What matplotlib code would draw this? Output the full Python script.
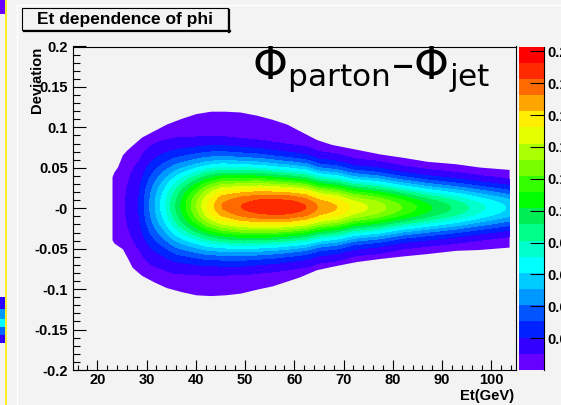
import numpy as np
import matplotlib
matplotlib.use('Agg')
import matplotlib.pyplot as plt
from matplotlib.patches import Rectangle
from matplotlib.lines import Line2D
from matplotlib.colors import ListedColormap
from matplotlib.ticker import MultipleLocator, FixedLocator, FixedFormatter

W, H = 561, 405
BG = '#f3f3f3'
FONT = 'Liberation Sans'

plt.rcParams['mathtext.fontset'] = 'dejavusans'

# Et columns (GeV)
et_nodes = [23.0, 24.0, 25.0, 26.5, 28.5, 31.0, 33.5, 36.0, 39.0, 42.3, 45.3, 49.5, 53.0,
            56.0, 59.0, 62.3, 65.0, 68.8, 72.0, 77.0, 82.0, 87.0, 93.0, 98.0, 103.6]
# height of the ridge at each Et
peak = [0.001, 0.004, 0.0075, 0.013, 0.021, 0.044, 0.067, 0.092, 0.121, 0.152, 0.1725, 0.1832, 0.1885,
        0.1900, 0.1890, 0.1830, 0.1710, 0.1620, 0.1490, 0.1370, 0.1210, 0.1040, 0.0880, 0.0730, 0.0590]
# spread of the ridge in deviation
spread = [0.045, 0.045, 0.045, 0.045, 0.045, 0.043, 0.041, 0.040, 0.038, 0.037, 0.036, 0.035, 0.034,
          0.033, 0.032, 0.031, 0.029, 0.028, 0.026, 0.025, 0.023, 0.022, 0.021, 0.020, 0.019]
# ridge position in deviation
ridge = [0.003, 0.003, 0.003, 0.004, 0.004, 0.004, 0.004, 0.003, 0.003, 0.003, 0.003, 0.002, 0.002,
         0.0015, 0.0015, 0.0015, 0.001, 0.001, 0.001, 0.001, 0.001, 0.0005, 0.0005, 0.0005, 0.0005]

# outer edge of the filled region
edge_et = [23.0, 23.4, 24.1, 25.1, 26.0, 27.1, 29.0, 31.5, 34.0, 37.0, 40.0, 43.0, 46.0, 49.0,
           52.4, 55.5, 58.5, 61.0, 64.5, 67.5, 72.5, 77.5, 82.0, 87.0, 92.8, 97.5, 103.6]
edge_top = [0.039, 0.045, 0.051, 0.066, 0.072, 0.078, 0.088, 0.096, 0.104, 0.111, 0.117, 0.120, 0.120, 0.119,
            0.115, 0.110, 0.104, 0.096, 0.085, 0.079, 0.073, 0.067, 0.063, 0.058, 0.055, 0.051, 0.048]
edge_bot = [-0.039, -0.043, -0.046, -0.050, -0.060, -0.073, -0.083, -0.091, -0.098, -0.103, -0.107, -0.108, -0.107, -0.105,
            -0.100, -0.096, -0.090, -0.085, -0.076, -0.072, -0.066, -0.062, -0.059, -0.056, -0.052, -0.051, -0.048]

z_max = 0.203
n_levels = 20
palette = ['#6600ff', '#3300ff', '#0022ff', '#0055ff', '#0099ff', '#00ccff', '#00ffff',
           '#00ffcc', '#00ff88', '#00ee55', '#00ff00', '#33ff00', '#77ff00', '#aaff00',
           '#e5ff00', '#ffee00', '#ffa500', '#ff6a00', '#ff2a00', '#ff0000']

y_ticks = [-0.2, -0.15, -0.1, -0.05, 0.0, 0.05, 0.1, 0.15, 0.2]
y_labels = ['-0.2', '-0.15', '-0.1', '-0.05', '-0', '0.05', '0.1', '0.15', '0.2']
z_ticks = [0.02, 0.04, 0.06, 0.08, 0.1, 0.12, 0.14, 0.16, 0.18, 0.2]
z_labels = ['0.02', '0.04', '0.06', '0.08', '0.1', '0.12', '0.14', '0.16', '0.18', '0.2']

title = 'Et dependence of phi'
x_title = 'Et(GeV)'
y_title = 'Deviation'
label = r'$\Phi_{\mathrm{parton}}$' + '\u2013' + r'$\Phi_{\mathrm{jet}}$'

fig = plt.figure(figsize=(W / 100, H / 100), dpi=100, facecolor=BG)

# main frame (pixel box 72.6..516 x 46.5..370)
x0, x1, y0, y1 = 72.6, 516.0, 46.5, 370.0
ax = fig.add_axes([x0 / W, 1 - y1 / H, (x1 - x0) / W, (y1 - y0) / H])
ax.set_facecolor(BG)

levels = np.linspace(0, z_max, n_levels + 1)
dev = np.linspace(-0.14, 0.14, 561)
E, D = np.meshgrid(et_nodes, dev)
Z = np.array(peak) * np.exp(-0.5 * ((D - np.array(ridge)) / np.array(spread)) ** 2)

ax.fill_between(edge_et, edge_bot, edge_top, color=palette[0], lw=0, zorder=1)
ax.contourf(E, D, Z, levels=levels[1:], colors=palette[1:], zorder=2, antialiased=False)

ax.set_xlim(15, 105)
ax.set_ylim(-0.2, 0.2)
ax.xaxis.set_major_locator(MultipleLocator(10))
ax.xaxis.set_minor_locator(MultipleLocator(2))
ax.yaxis.set_major_locator(FixedLocator(y_ticks))
ax.yaxis.set_major_formatter(FixedFormatter(y_labels))
ax.yaxis.set_minor_locator(MultipleLocator(0.01))
ax.tick_params(which='both', direction='in', top=False, right=False, width=0.8, color='black')
ax.tick_params(axis='x', which='major', length=7.2, pad=2.5)
ax.tick_params(axis='x', which='minor', length=3.6)
ax.tick_params(axis='y', which='major', length=9.4, pad=3.5)
ax.tick_params(axis='y', which='minor', length=4.7)
for t in ax.get_xticklabels() + ax.get_yticklabels():
    t.set_fontfamily(FONT)
    t.set_fontweight('bold')
    t.set_fontsize(10.5)
for s in ax.spines.values():
    s.set_linewidth(0.8)

# palette axis
cx0, cx1 = 518.7, 544.3
cax = fig.add_axes([cx0 / W, 1 - y1 / H, (cx1 - cx0) / W, (y1 - y0) / H])
cax.pcolormesh([0, 1], levels, np.arange(n_levels).reshape(-1, 1),
               cmap=ListedColormap(palette), shading='flat')
cax.set_xlim(0, 1)
cax.set_ylim(0, z_max)
cax.set_xticks([])
for side in ['left', 'top', 'bottom']:
    cax.spines[side].set_visible(False)
cax.spines['right'].set_linewidth(0.8)
cax.yaxis.tick_right()
cax.yaxis.set_major_locator(FixedLocator(z_ticks))
cax.yaxis.set_major_formatter(FixedFormatter(z_labels))
cax.tick_params(axis='y', direction='in', length=9.9, width=0.8, pad=2)
for t in cax.get_yticklabels():
    t.set_fontfamily(FONT)
    t.set_fontweight('bold')
    t.set_fontsize(10.5)

# overlay in pixel coordinates for the pad decorations and texts
ov = fig.add_axes([0, 0, 1, 1])
ov.set_xlim(0, W)
ov.set_ylim(H, 0)
ov.axis('off')
ov.patch.set_alpha(0)

# bits of the neighbouring window at the left edge
ov.add_patch(Rectangle((0, 0), 5.5, 14, color='#6a00ff', lw=0))
ov.add_patch(Rectangle((0, 297), 5.5, 12, color='#2a00ff', lw=0))
ov.add_patch(Rectangle((0, 309), 5.5, 10, color='#0099ff', lw=0))
ov.add_patch(Rectangle((0, 319), 5.5, 8, color='#00ffff', lw=0))
ov.add_patch(Rectangle((0, 327), 5.5, 8, color='#0066ff', lw=0))
ov.add_patch(Rectangle((0, 335), 5.5, 8, color='#3300ff', lw=0))
ov.add_line(Line2D([6.5, 6.5], [0, H], color='#ffee00', lw=1.2))
ov.add_line(Line2D([16.8, 16.8], [5, H], color='white', lw=1.0))
ov.add_line(Line2D([16.8, W], [5, 5], color='white', lw=1.0))

# title box with shadow
ov.add_patch(Rectangle((22, 8), 206, 22, facecolor=BG, edgecolor='black', lw=0.8))
ov.add_line(Line2D([229, 229], [10, 32], color='black', lw=1.6))
ov.add_line(Line2D([24, 229.8], [31.2, 31.2], color='black', lw=1.6))
ov.text(125, 19.5, title, ha='center', va='center', fontfamily=FONT,
        fontweight='bold', fontsize=12.5)

ov.text(37, 46.5, y_title, rotation=90, ha='center', va='top', fontfamily=FONT,
        fontweight='bold', fontsize=10.6)
ov.text(514, 396, x_title, ha='right', va='center', fontfamily=FONT,
        fontweight='bold', fontsize=10.6)

ov.text(252, 79, label, ha='left', va='baseline', fontfamily='DejaVu Sans', fontsize=32)

fig.savefig('out.png', dpi=100, facecolor=BG)
